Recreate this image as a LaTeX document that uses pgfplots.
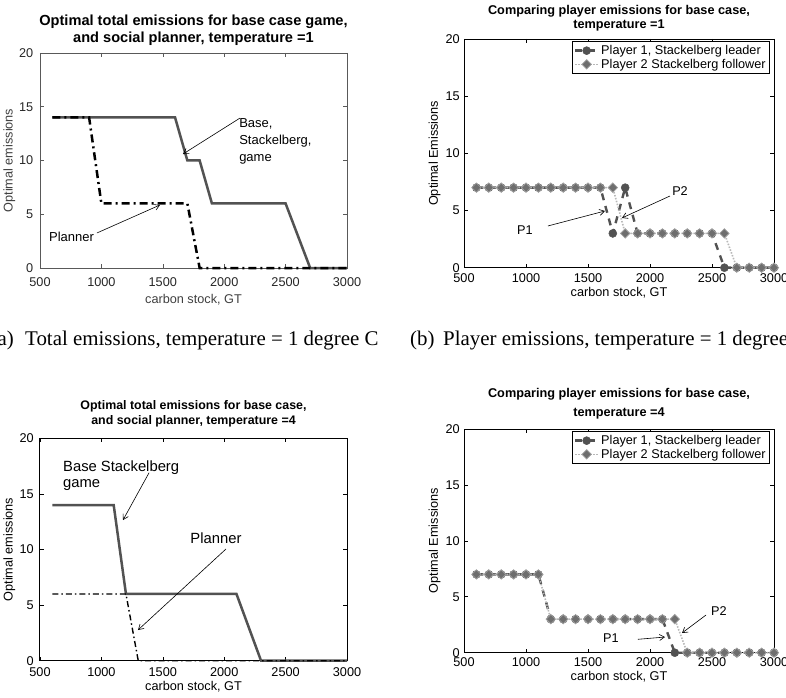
\documentclass[border=0pt]{standalone}
\usepackage{pgfplots}
\pgfplotsset{compat=1.18}
\usepackage{fontspec}
\setmainfont{Liberation Sans}
\newfontfamily\capfont{Liberation Serif}
\usetikzlibrary{arrows.meta}
\newcommand\pf{\fontsize{12.7}{15}\selectfont}
\tikzset{arr/.style={-{Straight Barb[length=5pt,width=6pt]},line width=0.6pt,black}}
\pgfplotsset{
 mat/.style={
  scale only axis, clip=false,
  xmin=500,xmax=3000,ymin=0,ymax=20,
  xtick={500,1000,1500,2000,2500,3000},
  ytick={0,5,10,15,20},
  tick align=inside,
  major tick length=4pt,
  every tick/.style={black,line width=0.6pt},
  axis line style={black,line width=0.8pt},
  /pgf/number format/assume math mode=true,
  /pgf/number format/1000 sep={},
  tick label style={font=\pf},
  x tick label style={anchor=center,inner sep=0pt},
  y tick label style={anchor=east,inner sep=0pt},
  label style={font=\pf},
  title style={align=center,anchor=south,inner sep=0pt,at={(0.5,1)}},
  legend image code/.code={\draw[mark repeat=2,mark phase=2] plot coordinates {(0cm,0cm)(0.4cm,0cm)(0.8cm,0cm)};},
 },
 p1/.style={color=black!68,line width=2.4pt,dash pattern=on 7pt off 6pt,mark=*,mark size=4pt,mark options={solid,fill=black!68,draw=black!68,line width=0.5pt}},
 p2/.style={color=black!28,line width=1.6pt,dash pattern=on 1.5pt off 1.5pt,mark=square*,mark size=3.3pt,mark options={solid,rotate=45,fill=black!57,draw=black!38,line width=0.8pt}},
 leg/.style={legend cell align=left,legend style={at={(axis description cs:1,1)},anchor=north east,xshift=-4pt,yshift=-2pt,font=\pf,draw=black,line width=0.6pt,inner sep=2pt,row sep=-1pt}},
}
\begin{document}
\begin{tikzpicture}
\useasboundingbox (0,0) rectangle (786pt,697pt);
\clip (0,0) rectangle (786pt,697pt);

% (a)
\begin{axis}[mat, at={(40pt,429pt)}, anchor=south west, width=307pt, height=215pt,
 axis line style={black!65}, every tick/.style={black!65,line width=0.6pt},
 tick label style={text=black!85},
 x tick label style={yshift=-14pt}, y tick label style={xshift=-6.5pt},
 title style={font=\bfseries\fontsize{14.6}{17}\selectfont, yshift=1.5pt},
 title={Optimal total emissions for base case game,\\and social planner, temperature =1},
 xlabel={carbon stock, GT}, ylabel={Optimal emissions},
 xlabel style={at={(axis description cs:0.5,0)},anchor=center,yshift=-32pt,text=black!75},
 ylabel style={at={(axis description cs:-0.1,0.5)},anchor=center,text=black!75},
]
\addplot[black!68,line width=2.5pt] coordinates {
(600,14)(700,14)(800,14)(900,14)(1000,14)(1100,14)(1200,14)(1300,14)(1400,14)(1500,14)(1600,14)
(1700,10)(1800,10)(1900,6)(2000,6)(2100,6)(2200,6)(2300,6)(2400,6)(2500,6)(2600,3)
(2700,0)(2800,0)(2900,0)(3000,0)};
\addplot[black,line width=2.5pt,dash pattern=on 8pt off 4pt on 2pt off 4pt] coordinates {
(600,14)(700,14)(800,14)(900,14)(1000,6)(1100,6)(1200,6)(1300,6)(1400,6)(1500,6)(1600,6)
(1700,6)(1800,0)(1900,0)(2000,0)(2100,0)(2200,0)(2300,0)(2400,0)(2500,0)(2600,0)
(2700,0)(2800,0)(2900,0)(3000,0)};
\node[font=\fontsize{13}{17}\selectfont,align=left,anchor=north west,inner sep=0pt] at (axis cs:2121,13.93) {Base,\\Stackelberg,\\game};
\draw[arr] (axis cs:2129,13.95) -- (axis cs:1664,10.6);
\node[font=\fontsize{13}{15}\selectfont,anchor=west,inner sep=0pt] at (axis cs:573,2.88) {Planner};
\draw[arr] (axis cs:964,3.26) -- (axis cs:1477,5.86);
\end{axis}

% (b)
\begin{axis}[mat, leg, at={(464pt,429.3pt)}, anchor=south west, width=310pt, height=228.7pt,
 x tick label style={yshift=-10.6pt}, y tick label style={xshift=-4pt},
 title style={font=\bfseries\fontsize{12.7}{14}\selectfont, yshift=1.5pt},
 title={Comparing player emissions for base case,\\temperature =1},
 xlabel={carbon stock, GT}, ylabel={Optimal Emissions},
 xlabel style={at={(axis description cs:0.5,0)},anchor=center,yshift=-25.5pt},
 ylabel style={at={(axis description cs:-0.0945,0.5)},anchor=center},
]
\addplot[p1] coordinates {
(600,7)(700,7)(800,7)(900,7)(1000,7)(1100,7)(1200,7)(1300,7)(1400,7)(1500,7)(1600,7)
(1700,3)(1800,7)(1900,3)(2000,3)(2100,3)(2200,3)(2300,3)(2400,3)(2500,3)(2600,0)
(2700,0)(2800,0)(2900,0)(3000,0)};
\addlegendentry{Player 1, Stackelberg leader}
\addplot[p2] coordinates {
(600,7)(700,7)(800,7)(900,7)(1000,7)(1100,7)(1200,7)(1300,7)(1400,7)(1500,7)(1600,7)
(1700,7)(1800,3)(1900,3)(2000,3)(2100,3)(2200,3)(2300,3)(2400,3)(2500,3)(2600,3)
(2700,0)(2800,0)(2900,0)(3000,0)};
\addlegendentry{Player 2 Stackelberg follower}
\node[font=\pf,anchor=center] at (axis cs:992,3.3) {P1};
\draw[arr] (axis cs:1177,3.65) -- (axis cs:1637,4.96);
\node[font=\pf,anchor=center] at (axis cs:2242,6.7) {P2};
\draw[arr] (axis cs:2161,6.27) -- (axis cs:1774,4.35);
\end{axis}

% (c)
\begin{axis}[mat, at={(40pt,36.3pt)}, anchor=south west, width=307pt, height=222.4pt,
 axis line style={line width=1pt},
 x tick label style={yshift=-11pt}, y tick label style={xshift=-6pt},
 title style={font=\bfseries\fontsize{12.4}{14.7}\selectfont, yshift=5pt},
 title={Optimal total emissions for base case,\\and social planner, temperature =4},
 xlabel={carbon stock, GT}, ylabel={Optimal emissions},
 xlabel style={at={(axis description cs:0.5,0)},anchor=center,yshift=-26pt},
 ylabel style={at={(axis description cs:-0.1,0.5)},anchor=center},
]
\addplot[black!68,line width=2.5pt] coordinates {
(600,14)(700,14)(800,14)(900,14)(1000,14)(1100,14)(1200,6)(1300,6)(1400,6)(1500,6)(1600,6)
(1700,6)(1800,6)(1900,6)(2000,6)(2100,6)(2200,3)(2300,0)(2400,0)(2500,0)(2600,0)
(2700,0)(2800,0)(2900,0)(3000,0)};
\addplot[black,line width=1.4pt,dash pattern=on 6pt off 3pt on 1.5pt off 3pt] coordinates {
(600,6)(700,6)(800,6)(900,6)(1000,6)(1100,6)(1200,6)(1300,0)(1400,0)(1500,0)(1600,0)
(1700,0)(1800,0)(1900,0)(2000,0)(2100,0)(2200,0)(2300,0)(2400,0)(2500,0)(2600,0)
(2700,0)(2800,0)(2900,0)(3000,0)};
\node[font=\fontsize{14.8}{16}\selectfont,align=left,anchor=north west,inner sep=0pt] at (axis cs:687,18) {Base Stackelberg\\game};
\draw[arr] (axis cs:1388,16.9) -- (axis cs:1176,12.65);
\node[font=\fontsize{14.8}{16}\selectfont,anchor=center] at (axis cs:1933,11.0) {Planner};
\draw[arr] (axis cs:2015,10.05) -- (axis cs:1298,2.76);
\end{axis}

% (d)
\begin{axis}[mat, leg, at={(464pt,44.3pt)}, anchor=south west, width=310pt, height=223.7pt,
 x tick label style={yshift=-9pt}, y tick label style={xshift=-4pt},
 title style={font=\bfseries\fontsize{12.7}{18.3}\selectfont, yshift=4pt},
 title={Comparing player emissions for base case,\\temperature =4},
 xlabel={carbon stock, GT}, ylabel={Optimal Emissions},
 xlabel style={at={(axis description cs:0.5,0)},anchor=center,yshift=-24.5pt},
 ylabel style={at={(axis description cs:-0.0945,0.5)},anchor=center},
]
\addplot[p1] coordinates {
(600,7)(700,7)(800,7)(900,7)(1000,7)(1100,7)(1200,3)(1300,3)(1400,3)(1500,3)(1600,3)
(1700,3)(1800,3)(1900,3)(2000,3)(2100,3)(2200,0)(2300,0)(2400,0)(2500,0)(2600,0)
(2700,0)(2800,0)(2900,0)(3000,0)};
\addlegendentry{Player 1, Stackelberg leader}
\addplot[p2] coordinates {
(600,7)(700,7)(800,7)(900,7)(1000,7)(1100,7)(1200,3)(1300,3)(1400,3)(1500,3)(1600,3)
(1700,3)(1800,3)(1900,3)(2000,3)(2100,3)(2200,3)(2300,0)(2400,0)(2500,0)(2600,0)
(2700,0)(2800,0)(2900,0)(3000,0)};
\addlegendentry{Player 2 Stackelberg follower}
\node[font=\pf,anchor=center] at (axis cs:1685,1.3) {P1};
\draw[arr] (axis cs:1903,1.2) -- (axis cs:2121,1.4);
\node[font=\pf,anchor=center] at (axis cs:2556,3.7) {P2};
\draw[arr] (axis cs:2452,3.37) -- (axis cs:2258,1.76);
\end{axis}

% captions
\node[font=\capfont\fontsize{20.9}{24}\selectfont,anchor=base east,inner sep=0pt] at (14pt,352pt) {(a)};
\node[font=\capfont\fontsize{20.9}{24}\selectfont,anchor=base west,inner sep=0pt] at (25pt,352pt) {Total emissions, temperature = 1 degree C};
\node[font=\capfont\fontsize{20.9}{24}\selectfont,anchor=base west,inner sep=0pt] at (410pt,352pt) {(b)};
\node[font=\capfont\fontsize{20.9}{24}\selectfont,anchor=base west,inner sep=0pt] at (443pt,352pt) {Player emissions, temperature = 1 degree};
\end{tikzpicture}
\end{document}
